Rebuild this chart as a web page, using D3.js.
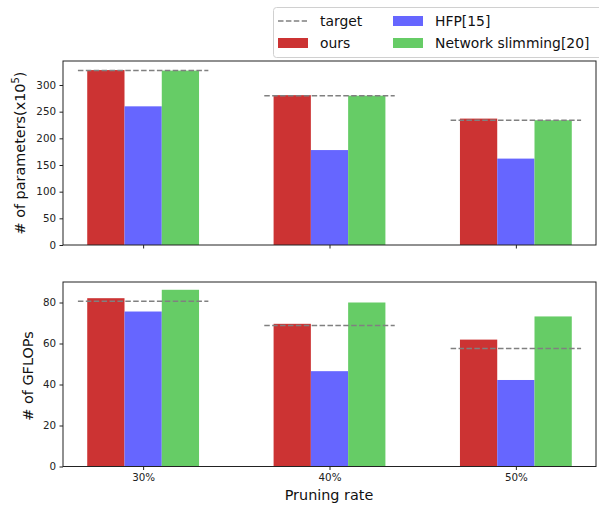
<!DOCTYPE html>
<html>
<head>
<meta charset="utf-8">
<script src="https://cdn.jsdelivr.net/npm/d3@7"></script>
<style>
  body { margin: 0; background: #fff; }
  text { font-family: "DejaVu Sans", sans-serif; }
</style>
</head>
<body>
<svg width="599" height="505"></svg>
<script>
var rates = ["30%", "40%", "50%"];
var series = ["ours", "HFP[15]", "Network slimming[20]"];
var colors = ["#cc3333", "#6666ff", "#66cc66"];

var paramsOurs = [328, 281, 237];
var paramsHFP = [260, 178, 162];
var paramsNS = [327, 280, 234];
var paramsTarget = [327, 280, 234];

var flopsOurs = [82.1, 69.6, 61.9];
var flopsHFP = [75.6, 46.5, 42.2];
var flopsNS = [86.2, 80.0, 73.2];
var flopsTarget = [80.6, 68.8, 57.6];

var svg = d3.select("svg");

var x = d3.scaleLinear().domain([-0.43, 2.43]).range([63, 596]);
var barW = 0.2;

function panel(top, bottom, ymax, ticks, vals, target, showX) {
  var y = d3.scaleLinear().domain([0, ymax]).range([bottom, top]);
  var g = svg.append("g");

  vals.forEach(function (arr, s) {
    g.selectAll("rect.s" + s)
      .data(arr)
      .enter()
      .append("rect")
      .attr("x", function (d, i) { return x(i + (s - 1) * barW - barW / 2); })
      .attr("width", x(barW) - x(0))
      .attr("y", function (d) { return y(d); })
      .attr("height", function (d) { return y(0) - y(d); })
      .style("fill", colors[s]);
  });

  g.selectAll("line.target")
    .data(target)
    .enter()
    .append("line")
    .attr("x1", function (d, i) { return x(i - 0.35); })
    .attr("x2", function (d, i) { return x(i + 0.35); })
    .attr("y1", function (d) { return y(d); })
    .attr("y2", function (d) { return y(d); })
    .style("stroke", "#808080")
    .style("stroke-width", 1.5)
    .style("stroke-dasharray", "5.5,2.4");

  var ya = g.append("g")
    .attr("transform", "translate(63,0)")
    .call(d3.axisLeft(y).tickValues(ticks).tickSize(3.5).tickPadding(3.5));
  var xa = g.append("g")
    .attr("transform", "translate(0," + bottom + ")")
    .call(d3.axisBottom(x).tickValues([0, 1, 2]).tickSize(3.5).tickPadding(3.5)
      .tickFormat(function (d) { return showX ? rates[d] : ""; }));
  [ya, xa].forEach(function (a) {
    a.select(".domain").remove();
    a.selectAll("text").style("font-size", "10.3px").style("fill", "#222");
    a.selectAll("line").style("stroke", "#222");
  });

  g.append("rect")
    .attr("x", 63).attr("y", top)
    .attr("width", 596 - 63).attr("height", bottom - top)
    .style("fill", "none").style("stroke", "#222").style("stroke-width", 1);
  return g;
}

panel(61, 245, 345, [0, 50, 100, 150, 200, 250, 300],
  [paramsOurs, paramsHFP, paramsNS], paramsTarget, false);
panel(282, 466.5, 90, [0, 20, 40, 60, 80],
  [flopsOurs, flopsHFP, flopsNS], flopsTarget, true);

// axis labels
var lab1 = svg.append("text")
  .attr("transform", "translate(24.5,153) rotate(-90)")
  .attr("text-anchor", "middle")
  .style("font-size", "14.4px")
  .style("fill", "#111");
lab1.append("tspan").text("# of parameters(x10");
lab1.append("tspan").attr("dy", -5.5).style("font-size", "10px").text("5");
lab1.append("tspan").attr("dy", 5.5).text(")");

svg.append("text")
  .attr("transform", "translate(32.5,376) rotate(-90)")
  .attr("text-anchor", "middle")
  .style("font-size", "14.4px")
  .style("fill", "#111")
  .text("# of GFLOPs");

svg.append("text")
  .attr("x", 329).attr("y", 500)
  .attr("text-anchor", "middle")
  .style("font-size", "14.4px")
  .style("fill", "#111")
  .text("Pruning rate");

// legend
var leg = svg.append("g");
leg.append("rect")
  .attr("x", 273.5).attr("y", 7.5).attr("width", 330).attr("height", 50)
  .attr("rx", 3)
  .style("fill", "#fff").style("stroke", "#d0d0d0");

leg.append("line")
  .attr("x1", 278).attr("x2", 307).attr("y1", 21).attr("y2", 21)
  .style("stroke", "#808080").style("stroke-width", 1.5)
  .style("stroke-dasharray", "5.5,2.4");
leg.append("text").attr("x", 320).attr("y", 26)
  .style("font-size", "13.9px").style("fill", "#111").text("target");

var items = [
  { name: series[0], color: colors[0], px: 278, py: 43 },
  { name: series[1], color: colors[1], px: 393, py: 21 },
  { name: series[2], color: colors[2], px: 393, py: 43 }
];
leg.selectAll("rect.item")
  .data(items)
  .enter()
  .append("rect")
  .attr("x", function (d) { return d.px; })
  .attr("y", function (d) { return d.py - 5; })
  .attr("width", 30).attr("height", 10)
  .style("fill", function (d) { return d.color; });
leg.selectAll("text.item")
  .data(items)
  .enter()
  .append("text")
  .attr("x", function (d) { return d.px + 42; })
  .attr("y", function (d) { return d.py + 5; })
  .style("font-size", "13.9px").style("fill", "#111")
  .text(function (d) { return d.name; });
</script>
</body>
</html>
